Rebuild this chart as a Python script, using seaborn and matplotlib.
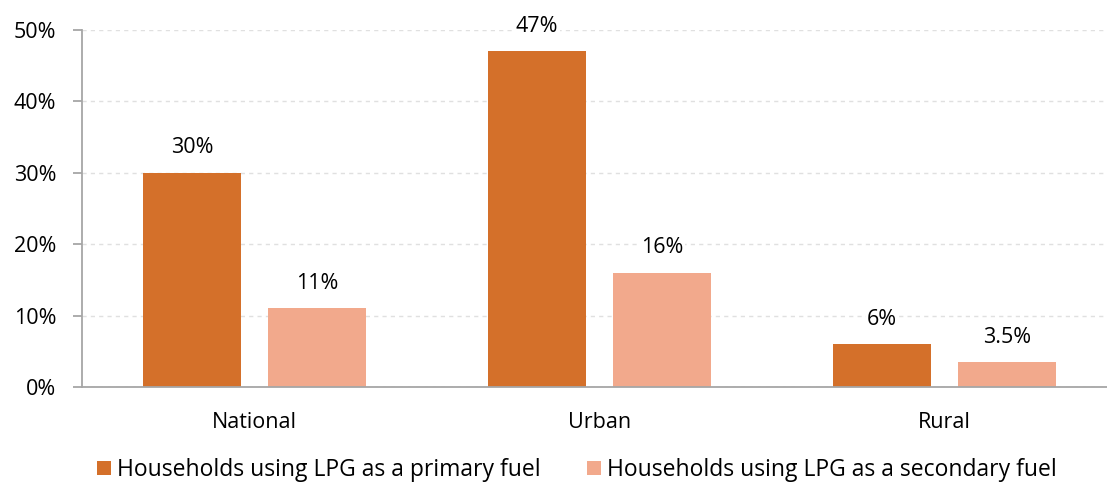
import seaborn as sns
import matplotlib.pyplot as plt
import pandas as pd

categorias = ['National', 'Urban', 'Rural']
primario = [30, 47, 6]
secundario = [11, 16, 3.5]
etiquetas_primario = ['30%', '47%', '6%']
etiquetas_secundario = ['11%', '16%', '3.5%']
series = ['Households using LPG as a primary fuel',
          'Households using LPG as a secondary fuel']
colores = ['#D4702A', '#F2A98C']

datos = pd.DataFrame({
    'categoria': categorias * 2,
    'valor': primario + secundario,
    'serie': [series[0]] * 3 + [series[1]] * 3,
    'etiqueta': etiquetas_primario + etiquetas_secundario,
})

sns.set_style('white')
plt.rcParams['font.family'] = ['Open Sans', 'DejaVu Sans']
plt.rcParams['text.color'] = 'black'
plt.rcParams['xtick.color'] = 'black'
plt.rcParams['ytick.color'] = 'black'

tam = 15.5

fig = plt.figure(figsize=(11.07, 4.82), dpi=100)
ax = fig.add_axes([82 / 1107, (482 - 387) / 482, 1035 / 1107, 357 / 482])

sns.barplot(data=datos, x='categoria', y='valor', hue='serie',
            palette=colores, saturation=1, width=0.725, gap=0.216,
            linewidth=0, ax=ax, legend=True)

ax.set_xlim(-0.5, 2.5)
ax.set_ylim(0, 50)
ax.set_yticks(range(0, 51, 10))
ax.set_yticklabels([f'{v}%' for v in range(0, 51, 10)], fontsize=tam)
ax.tick_params(axis='x', labelsize=tam, length=0, pad=18)
ax.tick_params(axis='y', length=6.5, color='#A6A6A6', width=1.3, pad=12, left=True)
ax.set_xlabel('')
ax.set_ylabel('')
ax.grid(axis='y', color='#E0E0E0', linestyle=(0, (3, 3)), linewidth=1)
ax.set_axisbelow(True)
for lado in ['top', 'right']:
    ax.spines[lado].set_visible(False)
for lado in ['left', 'bottom']:
    ax.spines[lado].set_color('#A6A6A6')
    ax.spines[lado].set_linewidth(1.3)

for contenedor, serie in zip(ax.containers, series):
    sub = datos[datos['serie'] == serie]
    for barra, texto in zip(contenedor, sub['etiqueta']):
        ax.annotate(texto, (barra.get_x() + barra.get_width() / 2, barra.get_height()),
                    xytext=(0, 18), textcoords='offset points', ha='center', va='center',
                    fontsize=tam, bbox=dict(facecolor='white', edgecolor='none', pad=1))

ax.legend(loc='center', bbox_to_anchor=(495 / 1035, -83 / 357), ncol=2, frameon=False,
          fontsize=16.5, handlelength=0.6, handleheight=0.6, handletextpad=0.3,
          columnspacing=2.0, borderaxespad=0)

fig.savefig('out.png', dpi=100)
